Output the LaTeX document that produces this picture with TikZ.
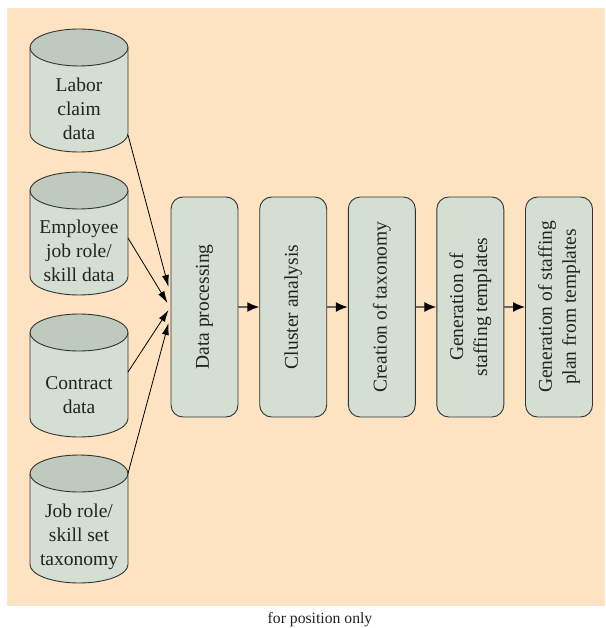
\documentclass[tikz,border=0pt]{standalone}
\usepackage{fontspec}
\setmainfont{Liberation Serif}
\usetikzlibrary{arrows.meta,calc}
\definecolor{bgpeach}{HTML}{FDE3C2}
\definecolor{bodyfill}{HTML}{D4DED2}
\definecolor{topfill}{HTML}{BECABD}
\definecolor{edgec}{HTML}{333333}
\definecolor{txtc}{HTML}{222222}
\begin{document}
\begin{tikzpicture}[x=1pt,y=1pt,
  cylbody/.style={fill=bodyfill,draw=edgec,line width=0.9pt},
  cyltop/.style={fill=topfill,draw=edgec,line width=0.9pt},
  cyltext/.style={align=center,text=txtc,font=\fontsize{19.5}{24}\selectfont,inner sep=0pt},
  stepbox/.style={draw=edgec,fill=bodyfill,line width=0.9pt,rounded corners=12pt,
    minimum width=67pt,minimum height=220pt,inner sep=0pt,text=txtc,
    font=\fontsize{19.5}{24}\selectfont},
  inarrow/.style={draw=black,line width=0.8pt,-{Latex[length=12pt,width=7pt]}},
  flowarrow/.style={draw=gray!80!black,line width=1.6pt,-{Latex[length=12pt,width=10pt,color=black]}}
]
\useasboundingbox (0,0) rectangle (605,-628);
\fill[bgpeach] (7,-8) rectangle (605,-606);

% cylinders
\begin{scope}[shift={(79,-29)}]
  \path[cylbody] (-49,-18.5) -- (-49,-104.5) arc[start angle=180,end angle=360,x radius=49,y radius=18.5] -- (49,-18.5);
  \path[cyltop] (0,-18.5) ellipse[x radius=49,y radius=18.5];
  \node[cyltext] (c1) at (0,-80) {Labor\\claim\\data};
  \coordinate (c1o) at (49,-106);
\end{scope}
\begin{scope}[shift={(79,-172)}]
  \path[cylbody] (-49,-18.5) -- (-49,-104.5) arc[start angle=180,end angle=360,x radius=49,y radius=18.5] -- (49,-18.5);
  \path[cyltop] (0,-18.5) ellipse[x radius=49,y radius=18.5];
  \node[cyltext] (c2) at (0,-79) {Employee\\job role/\\skill data};
  \coordinate (c2o) at (49,-66);
\end{scope}
\begin{scope}[shift={(79,-314)}]
  \path[cylbody] (-49,-18.5) -- (-49,-104.5) arc[start angle=180,end angle=360,x radius=49,y radius=18.5] -- (49,-18.5);
  \path[cyltop] (0,-18.5) ellipse[x radius=49,y radius=18.5];
  \node[cyltext] (c3) at (0,-81) {Contract\\data};
  \coordinate (c3o) at (49,-58);
\end{scope}
\begin{scope}[shift={(79,-455)}]
  \path[cylbody] (-49,-18.5) -- (-49,-109.5) arc[start angle=180,end angle=360,x radius=49,y radius=18.5] -- (49,-18.5);
  \path[cyltop] (0,-18.5) ellipse[x radius=49,y radius=18.5];
  \node[cyltext] (c4) at (0,-82) {Job role/\\skill set\\taxonomy};
  \coordinate (c4o) at (49,-18.5);
\end{scope}

% process boxes
\node[stepbox] (p1) at (204.5,-307) {\rotatebox{90}{Data processing}};
\node[stepbox] (p2) at (293.2,-307) {\rotatebox{90}{Cluster analysis}};
\node[stepbox] (p3) at (381.8,-307) {\rotatebox{90}{Creation of taxonomy}};
\node[stepbox] (p4) at (470.3,-307) {\rotatebox{90}{\begin{tabular}{@{}c@{}}Generation of\\staffing templates\end{tabular}}};
\node[stepbox] (p5) at (559,-307) {\rotatebox{90}{\begin{tabular}{@{}c@{}}Generation of staffing\\plan from templates\end{tabular}}};

% input arrow targets
\coordinate (t1) at ($(p1.west)+(-2,20)$);
\coordinate (t2) at ($(p1.west)+(-3,4)$);
\coordinate (t3) at ($(p1.west)+(-2,-3)$);
\coordinate (t4) at ($(p1.west)+(-2,-16)$);

\draw[inarrow] (c1o) -- (t1);
\draw[inarrow] (c2o) -- (t2);
\draw[inarrow] (c3o) -- (t3);
\draw[inarrow] (c4o) -- (t4);

\draw[flowarrow] (p1.east) -- (p2.west);
\draw[flowarrow] (p2.east) -- (p3.west);
\draw[flowarrow] (p3.east) -- (p4.west);
\draw[flowarrow] (p4.east) -- (p5.west);

\node[font=\fontsize{15.7}{19}\selectfont,text=txtc] (fpo) at (320,-620) {for position only};
\end{tikzpicture}
\end{document}
